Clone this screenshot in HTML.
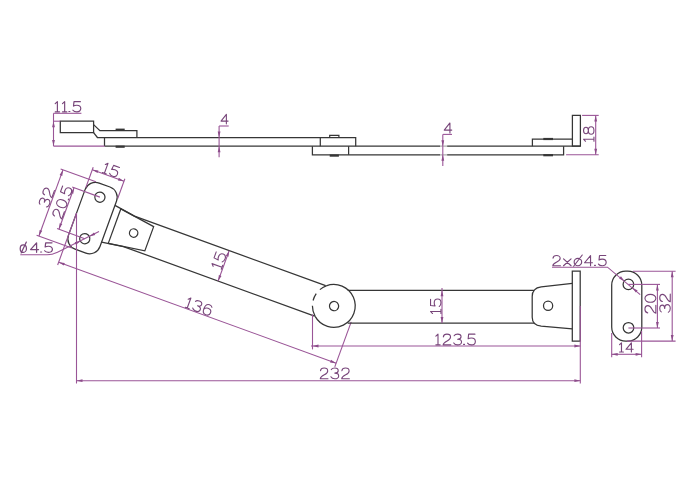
<!DOCTYPE html>
<html><head><meta charset="utf-8"><style>
html,body{margin:0;padding:0;background:#fff;}
svg{display:block;}
text{font-family:"Liberation Sans",sans-serif;}
</style></head><body>
<svg width="700" height="500" viewBox="0 0 700 500">
<rect width="700" height="500" fill="#fff"/>
<path d="M60.30,121.20 L93.60,121.20 L93.60,132.60 L60.30,132.60 Z" fill="none" stroke="#363636" stroke-width="1.25"/>
<path d="M93.60,124.60 L99.90,130.60 L136.90,130.60 L136.90,137.50" fill="none" stroke="#363636" stroke-width="1.25" />
<path d="M93.60,132.60 L97.40,137.50 L355.70,137.50 L355.70,146.20" fill="none" stroke="#363636" stroke-width="1.25" />
<path d="M104.50,137.50 L104.50,146.20" fill="none" stroke="#363636" stroke-width="1.25" />
<path d="M104.50,146.20 L580.40,146.20" fill="none" stroke="#363636" stroke-width="1.25" />
<path d="M320.30,137.50 L320.30,146.20" fill="none" stroke="#363636" stroke-width="1.25" />
<path d="M312.40,146.20 L312.40,154.80 L563.60,154.80 L563.60,146.20" fill="none" stroke="#363636" stroke-width="1.25" />
<path d="M348.60,146.20 L348.60,154.80" fill="none" stroke="#363636" stroke-width="1.25" />
<path d="M329.70,135.40 L338.90,135.40 L338.90,137.50 L329.70,137.50 Z" fill="none" stroke="#363636" stroke-width="1.2"/>
<path d="M329.70,155.60 L338.90,155.60" fill="none" stroke="#363636" stroke-width="2.2" />
<path d="M115.60,129.70 L124.70,129.70" fill="none" stroke="#363636" stroke-width="2.2" />
<path d="M115.60,146.70 L124.70,146.70" fill="none" stroke="#363636" stroke-width="2.2" />
<path d="M543.30,139.00 L553.00,139.00" fill="none" stroke="#363636" stroke-width="2.2" />
<path d="M543.30,155.20 L553.00,155.20" fill="none" stroke="#363636" stroke-width="2.2" />
<path d="M532.40,146.20 L532.40,139.10 L572.40,139.10" fill="none" stroke="#363636" stroke-width="1.25" />
<path d="M572.40,115.40 L580.40,115.40 L580.40,146.20 L572.40,146.20 Z" fill="none" stroke="#363636" stroke-width="1.25"/>
<path d="M53.50,113.30 L53.50,146.10" fill="none" stroke="#9a5597" stroke-width="1.1" />
<path d="M53.50,113.30 L81.40,113.30" fill="none" stroke="#9a5597" stroke-width="1.1" />
<path d="M53.50,146.10 L104.50,146.10" fill="none" stroke="#9a5597" stroke-width="1.1" />
<path d="M53.50,121.20 L60.30,121.20" fill="none" stroke="#9a5597" stroke-width="1.1" />
<path d="M53.50,121.20 L54.90,127.20 L52.10,127.20 Z" fill="#8c4c8a"/>
<path d="M53.50,146.10 L52.10,140.10 L54.90,140.10 Z" fill="#8c4c8a"/>
<g transform="translate(68.00,106.75) rotate(0) scale(0.9829,0.9273) translate(-13.00,5.5)" fill="none" stroke="#78467a" stroke-width="1.186" stroke-linecap="round" stroke-linejoin="round"><path transform="translate(0.00,0)" d="M0,-8.9 L2.2,-11 V0 M0,0 H4.4"/><path transform="translate(7.40,0)" d="M0,-8.9 L2.2,-11 V0 M0,0 H4.4"/><path transform="translate(13.80,0)" d="M0.1,-0.45 H1.1"/><path transform="translate(18.00,0)" d="M7.6,-11 H1.1 L0.6,-6.2 C1.4,-6.9 2.7,-7.1 4,-7.1 C6.5,-7.1 8,-5.6 8,-3.5 C8,-1.3 6.4,0 4,0 C2.2,0 0.8,-0.6 0,-1.8"/></g>
<path d="M219.10,126.00 L219.10,157.30" fill="none" stroke="#9a5597" stroke-width="1.1" />
<path d="M219.10,126.00 L228.70,126.00" fill="none" stroke="#9a5597" stroke-width="1.1" />
<path d="M219.10,137.50 L217.70,131.50 L220.50,131.50 Z" fill="#8c4c8a"/>
<path d="M219.10,146.20 L220.50,152.20 L217.70,152.20 Z" fill="#8c4c8a"/>
<g transform="translate(224.55,119.10) rotate(0) scale(0.8636,0.8636) translate(-4.10,5.5)" fill="none" stroke="#78467a" stroke-width="1.274" stroke-linecap="round" stroke-linejoin="round"><path transform="translate(0.00,0)" d="M6.2,0 V-11 L0,-3.2 H8.2"/></g>
<rect x="440" y="144" width="7.2" height="13" fill="#fff" fill-opacity="0.6"/>
<path d="M442.80,134.40 L442.80,166.00" fill="none" stroke="#9a5597" stroke-width="1.1" />
<path d="M442.80,134.40 L452.00,134.40" fill="none" stroke="#9a5597" stroke-width="1.1" />
<path d="M442.80,146.20 L441.40,140.20 L444.20,140.20 Z" fill="#8c4c8a"/>
<path d="M442.80,154.80 L444.20,160.80 L441.40,160.80 Z" fill="#8c4c8a"/>
<g transform="translate(448.00,128.00) rotate(0) scale(0.9182,0.9182) translate(-4.10,5.5)" fill="none" stroke="#78467a" stroke-width="1.198" stroke-linecap="round" stroke-linejoin="round"><path transform="translate(0.00,0)" d="M6.2,0 V-11 L0,-3.2 H8.2"/></g>
<path d="M595.70,115.40 L595.70,154.80" fill="none" stroke="#9a5597" stroke-width="1.1" />
<path d="M582.10,115.40 L598.70,115.40" fill="none" stroke="#9a5597" stroke-width="1.1" />
<path d="M566.10,154.80 L598.70,154.80" fill="none" stroke="#9a5597" stroke-width="1.1" />
<path d="M595.70,115.40 L597.10,121.40 L594.30,121.40 Z" fill="#8c4c8a"/>
<path d="M595.70,154.80 L594.30,148.80 L597.10,148.80 Z" fill="#8c4c8a"/>
<g transform="translate(588.75,134.00) rotate(-90) scale(0.9455,0.9455) translate(-7.70,5.5)" fill="none" stroke="#78467a" stroke-width="1.163" stroke-linecap="round" stroke-linejoin="round"><path transform="translate(0.00,0)" d="M0,-8.9 L2.2,-11 V0 M0,0 H4.4"/><path transform="translate(7.40,0)" d="M4,-5.9 C2,-5.9 0.6,-7 0.6,-8.45 C0.6,-9.9 2,-11 4,-11 C6,-11 7.4,-9.9 7.4,-8.45 C7.4,-7 6,-5.9 4,-5.9 C1.8,-5.9 0,-4.6 0,-2.95 C0,-1.3 1.8,0 4,0 C6.2,0 8,-1.3 8,-2.95 C8,-4.6 6.2,-5.9 4,-5.9 Z"/></g>
<g transform="translate(333.8,305.9) rotate(20)">
<rect x="-273.5" y="-35.2" width="33.5" height="70.4" rx="11" ry="11" fill="none" stroke="#363636" stroke-width="1.25"/>
<circle cx="-257" cy="-22.2" r="5.1" fill="none" stroke="#363636" stroke-width="1.25" />
<circle cx="-257" cy="22" r="5.1" fill="none" stroke="#363636" stroke-width="1.25" />
<path d="M-233.30,-18.40 L-233.30,18.40" fill="none" stroke="#363636" stroke-width="1.25" />
<path d="M-240.00,-19.60 L-218.00,-16.20 L-14.60,-16.20" fill="none" stroke="#363636" stroke-width="1.25" />
<path d="M-240.00,19.60 L-218.00,16.20 L-14.60,16.20" fill="none" stroke="#363636" stroke-width="1.25" />
<path d="M-233.30,-18.30 L-196.40,-12.90 L-196.40,12.90 L-233.30,18.30" fill="none" stroke="#363636" stroke-width="1.25" />
<circle cx="-213" cy="0" r="4.2" fill="none" stroke="#363636" stroke-width="1.25" />
<path d="M-13.98,-16.2 A21.4,21.4 0 1 1 -13.98,16.2" fill="none" stroke="#363636" stroke-width="1.25"/>
<path d="M-13.98,-16.2 A21.4,21.4 0 0 0 -13.98,16.2" fill="none" stroke="#363636" stroke-width="1.25" stroke-dasharray="7.4 5.4 7.5 5.4 30"/>
<circle cx="0.3" cy="0.1" r="4.6" fill="none" stroke="#363636" stroke-width="1.25" />
<path d="M-273.50,-26.00 L-273.50,-48.00" fill="none" stroke="#9a5597" stroke-width="1.1" />
<path d="M-239.80,-27.00 L-239.80,-48.00" fill="none" stroke="#9a5597" stroke-width="1.1" />
<path d="M-273.50,-45.40 L-239.80,-45.40" fill="none" stroke="#9a5597" stroke-width="1.1" />
<path d="M-273.50,-45.40 L-267.50,-46.80 L-267.50,-44.00 Z" fill="#8c4c8a"/>
<path d="M-239.80,-45.40 L-245.80,-44.00 L-245.80,-46.80 Z" fill="#8c4c8a"/>
<g transform="translate(-255.70,-51.50) rotate(0) scale(0.9545,0.9545) translate(-7.70,5.5)" fill="none" stroke="#78467a" stroke-width="1.152" stroke-linecap="round" stroke-linejoin="round"><path transform="translate(0.00,0)" d="M0,-8.9 L2.2,-11 V0 M0,0 H4.4"/><path transform="translate(7.40,0)" d="M7.6,-11 H1.1 L0.6,-6.2 C1.4,-6.9 2.7,-7.1 4,-7.1 C6.5,-7.1 8,-5.6 8,-3.5 C8,-1.3 6.4,0 4,0 C2.2,0 0.8,-0.6 0,-1.8"/></g>
<path d="M-266.00,-35.20 L-303.50,-35.20" fill="none" stroke="#9a5597" stroke-width="1.1" />
<path d="M-266.00,35.20 L-303.50,35.20" fill="none" stroke="#9a5597" stroke-width="1.1" />
<path d="M-301.00,-35.20 L-301.00,35.20" fill="none" stroke="#9a5597" stroke-width="1.1" />
<path d="M-301.00,-35.20 L-299.60,-29.20 L-302.40,-29.20 Z" fill="#8c4c8a"/>
<path d="M-301.00,35.20 L-302.40,29.20 L-299.60,29.20 Z" fill="#8c4c8a"/>
<g transform="translate(-307.20,-3.70) rotate(-90) scale(0.9545,0.9545) translate(-9.50,5.5)" fill="none" stroke="#78467a" stroke-width="1.152" stroke-linecap="round" stroke-linejoin="round"><path transform="translate(0.00,0)" d="M0.4,-9.4 C1,-10.5 2.4,-11 4,-11 C6,-11 7.5,-9.9 7.5,-8.2 C7.5,-6.6 6,-5.8 4,-5.8 C6.3,-5.8 8,-4.6 8,-2.9 C8,-1.1 6.3,0 4,0 C2.2,0 0.7,-0.7 0,-2"/><path transform="translate(11.00,0)" d="M0.3,-8.2 C0.5,-9.9 2,-11 4,-11 C6.2,-11 7.7,-9.8 7.7,-8 C7.7,-6.2 6.3,-5.1 4.2,-4 C2,-2.9 0.2,-1.8 0.1,0 H8"/></g>
<path d="M-257.00,-22.20 L-286.50,-22.20" fill="none" stroke="#9a5597" stroke-width="1.1" />
<path d="M-257.00,22.00 L-286.50,22.00" fill="none" stroke="#9a5597" stroke-width="1.1" />
<path d="M-284.50,-22.20 L-284.50,22.00" fill="none" stroke="#9a5597" stroke-width="1.1" />
<path d="M-284.50,-22.20 L-283.10,-16.20 L-285.90,-16.20 Z" fill="#8c4c8a"/>
<path d="M-284.50,22.00 L-285.90,16.00 L-283.10,16.00 Z" fill="#8c4c8a"/>
<g transform="translate(-290.60,-4.50) rotate(-90) scale(0.9545,0.9545) translate(-16.60,5.5)" fill="none" stroke="#78467a" stroke-width="1.152" stroke-linecap="round" stroke-linejoin="round"><path transform="translate(0.00,0)" d="M0.3,-8.2 C0.5,-9.9 2,-11 4,-11 C6.2,-11 7.7,-9.8 7.7,-8 C7.7,-6.2 6.3,-5.1 4.2,-4 C2,-2.9 0.2,-1.8 0.1,0 H8"/><path transform="translate(11.00,0)" d="M4,-11 C6.3,-11 8,-8.6 8,-5.5 C8,-2.4 6.3,0 4,0 C1.7,0 0,-2.4 0,-5.5 C0,-8.6 1.7,-11 4,-11 Z"/><path transform="translate(21.00,0)" d="M0.1,-0.45 H1.1"/><path transform="translate(25.20,0)" d="M7.6,-11 H1.1 L0.6,-6.2 C1.4,-6.9 2.7,-7.1 4,-7.1 C6.5,-7.1 8,-5.6 8,-3.5 C8,-1.3 6.4,0 4,0 C2.2,0 0.8,-0.6 0,-1.8"/></g>
<path d="M-273.50,1.00 L-273.50,56.00" fill="none" stroke="#9a5597" stroke-width="1.1" />
<path d="M21.80,9.00 L21.80,57.00" fill="none" stroke="#9a5597" stroke-width="1.1" />
<path d="M-273.50,53.00 L21.80,53.00" fill="none" stroke="#9a5597" stroke-width="1.1" />
<path d="M-273.50,53.00 L-267.50,51.60 L-267.50,54.40 Z" fill="#8c4c8a"/>
<path d="M21.80,53.00 L15.80,54.40 L15.80,51.60 Z" fill="#8c4c8a"/>
<g transform="translate(-126.30,46.80) rotate(0) scale(0.9727,0.9727) translate(-13.20,5.5)" fill="none" stroke="#78467a" stroke-width="1.131" stroke-linecap="round" stroke-linejoin="round"><path transform="translate(0.00,0)" d="M0,-8.9 L2.2,-11 V0 M0,0 H4.4"/><path transform="translate(7.40,0)" d="M0.4,-9.4 C1,-10.5 2.4,-11 4,-11 C6,-11 7.5,-9.9 7.5,-8.2 C7.5,-6.6 6,-5.8 4,-5.8 C6.3,-5.8 8,-4.6 8,-2.9 C8,-1.1 6.3,0 4,0 C2.2,0 0.7,-0.7 0,-2"/><path transform="translate(18.40,0)" d="M7.4,-9.4 C6.8,-10.4 5.6,-11 4.2,-11 C1.6,-11 0.1,-8.5 0.1,-5 C0.1,-1.8 1.7,0 4,0 C6.3,0 8,-1.6 8,-3.6 C8,-5.6 6.3,-7.1 4.1,-7.1 C2.3,-7.1 0.8,-6.1 0.1,-4.6"/></g>
<path d="M-117.20,-16.20 L-117.20,16.20" fill="none" stroke="#9a5597" stroke-width="1.1" />
<path d="M-117.20,-16.20 L-115.80,-10.20 L-118.60,-10.20 Z" fill="#8c4c8a"/>
<path d="M-117.20,16.20 L-118.60,10.20 L-115.80,10.20 Z" fill="#8c4c8a"/>
<g transform="translate(-123.60,-3.40) rotate(-90) scale(0.9727,0.9727) translate(-7.70,5.5)" fill="none" stroke="#78467a" stroke-width="1.131" stroke-linecap="round" stroke-linejoin="round"><path transform="translate(0.00,0)" d="M0,-8.9 L2.2,-11 V0 M0,0 H4.4"/><path transform="translate(7.40,0)" d="M7.6,-11 H1.1 L0.6,-6.2 C1.4,-6.9 2.7,-7.1 4,-7.1 C6.5,-7.1 8,-5.6 8,-3.5 C8,-1.3 6.4,0 4,0 C2.2,0 0.8,-0.6 0,-1.8"/></g>
</g>
<path d="M347.67,290.30 L534.20,290.30" fill="none" stroke="#363636" stroke-width="1.25" />
<path d="M347.67,323.00 L534.20,323.00" fill="none" stroke="#363636" stroke-width="1.25" />
<path d="M442.00,288.00 L442.00,323.00" fill="none" stroke="#9a5597" stroke-width="1.1" />
<path d="M442.00,290.30 L443.40,296.30 L440.60,296.30 Z" fill="#8c4c8a"/>
<path d="M442.00,323.00 L440.60,317.00 L443.40,317.00 Z" fill="#8c4c8a"/>
<g transform="translate(435.75,306.25) rotate(-90) scale(0.9455,0.9455) translate(-7.70,5.5)" fill="none" stroke="#78467a" stroke-width="1.163" stroke-linecap="round" stroke-linejoin="round"><path transform="translate(0.00,0)" d="M0,-8.9 L2.2,-11 V0 M0,0 H4.4"/><path transform="translate(7.40,0)" d="M7.6,-11 H1.1 L0.6,-6.2 C1.4,-6.9 2.7,-7.1 4,-7.1 C6.5,-7.1 8,-5.6 8,-3.5 C8,-1.3 6.4,0 4,0 C2.2,0 0.8,-0.6 0,-1.8"/></g>
<path d="M572.3,283.4 L541.2,286.8 Q532.2,288 532.2,296.5 L532.2,317.3 Q532.2,325.2 541.2,326.2 L572.3,328.8" fill="none" stroke="#363636" stroke-width="1.25"/>
<circle cx="548.1" cy="305.7" r="4.6" fill="none" stroke="#363636" stroke-width="1.25" />
<path d="M572.30,271.10 L580.20,271.10 L580.20,341.20 L572.30,341.20 Z" fill="none" stroke="#363636" stroke-width="1.25"/>
<rect x="611.7" y="271.2" width="30.1" height="69.9" rx="14" ry="14" fill="none" stroke="#363636" stroke-width="1.25"/>
<circle cx="628.4" cy="284.4" r="5.3" fill="none" stroke="#363636" stroke-width="1.25" />
<circle cx="628.5" cy="327.8" r="5.3" fill="none" stroke="#363636" stroke-width="1.25" />
<path d="M76.50,213.00 L76.50,383.50" fill="none" stroke="#9a5597" stroke-width="1.1" />
<path d="M76.50,380.70 L580.40,380.70" fill="none" stroke="#9a5597" stroke-width="1.1" />
<path d="M76.50,380.70 L82.50,379.30 L82.50,382.10 Z" fill="#8c4c8a"/>
<path d="M580.40,380.70 L574.40,382.10 L574.40,379.30 Z" fill="#8c4c8a"/>
<g transform="translate(334.80,373.40) rotate(0) scale(0.9727,0.9727) translate(-15.00,5.5)" fill="none" stroke="#78467a" stroke-width="1.131" stroke-linecap="round" stroke-linejoin="round"><path transform="translate(0.00,0)" d="M0.3,-8.2 C0.5,-9.9 2,-11 4,-11 C6.2,-11 7.7,-9.8 7.7,-8 C7.7,-6.2 6.3,-5.1 4.2,-4 C2,-2.9 0.2,-1.8 0.1,0 H8"/><path transform="translate(11.00,0)" d="M0.4,-9.4 C1,-10.5 2.4,-11 4,-11 C6,-11 7.5,-9.9 7.5,-8.2 C7.5,-6.6 6,-5.8 4,-5.8 C6.3,-5.8 8,-4.6 8,-2.9 C8,-1.1 6.3,0 4,0 C2.2,0 0.7,-0.7 0,-2"/><path transform="translate(22.00,0)" d="M0.3,-8.2 C0.5,-9.9 2,-11 4,-11 C6.2,-11 7.7,-9.8 7.7,-8 C7.7,-6.2 6.3,-5.1 4.2,-4 C2,-2.9 0.2,-1.8 0.1,0 H8"/></g>
<path d="M312.50,314.50 L312.50,349.40" fill="none" stroke="#9a5597" stroke-width="1.1" />
<path d="M580.30,306.00 L580.30,383.50" fill="none" stroke="#9a5597" stroke-width="1.1" />
<path d="M311.00,346.00 L580.40,346.00" fill="none" stroke="#9a5597" stroke-width="1.1" />
<path d="M312.50,346.00 L318.50,344.60 L318.50,347.40 Z" fill="#8c4c8a"/>
<path d="M580.40,346.00 L574.40,347.40 L574.40,344.60 Z" fill="#8c4c8a"/>
<g transform="translate(455.60,339.50) rotate(0) scale(0.9727,0.9727) translate(-20.30,5.5)" fill="none" stroke="#78467a" stroke-width="1.131" stroke-linecap="round" stroke-linejoin="round"><path transform="translate(0.00,0)" d="M0,-8.9 L2.2,-11 V0 M0,0 H4.4"/><path transform="translate(7.40,0)" d="M0.3,-8.2 C0.5,-9.9 2,-11 4,-11 C6.2,-11 7.7,-9.8 7.7,-8 C7.7,-6.2 6.3,-5.1 4.2,-4 C2,-2.9 0.2,-1.8 0.1,0 H8"/><path transform="translate(18.40,0)" d="M0.4,-9.4 C1,-10.5 2.4,-11 4,-11 C6,-11 7.5,-9.9 7.5,-8.2 C7.5,-6.6 6,-5.8 4,-5.8 C6.3,-5.8 8,-4.6 8,-2.9 C8,-1.1 6.3,0 4,0 C2.2,0 0.7,-0.7 0,-2"/><path transform="translate(28.40,0)" d="M0.1,-0.45 H1.1"/><path transform="translate(32.60,0)" d="M7.6,-11 H1.1 L0.6,-6.2 C1.4,-6.9 2.7,-7.1 4,-7.1 C6.5,-7.1 8,-5.6 8,-3.5 C8,-1.3 6.4,0 4,0 C2.2,0 0.8,-0.6 0,-1.8"/></g>
<path d="M20.3,254.8 L47,254.8 Q52,254.8 57.5,252.2 L99,231.5" fill="none" stroke="#9a5597" stroke-width="1.1"/>
<path d="M80.70,240.90 L75.97,244.84 L74.71,242.34 Z" fill="#8c4c8a"/>
<path d="M89.30,236.50 L93.99,232.51 L95.27,235.00 Z" fill="#8c4c8a"/>
<g transform="translate(36.30,247.60) rotate(0) scale(0.9759,0.8636) translate(-16.50,5.5)" fill="none" stroke="#78467a" stroke-width="1.274" stroke-linecap="round" stroke-linejoin="round"><path transform="translate(0.00,0)" d="M3.2,-8.6 C5,-8.6 6.4,-6.7 6.4,-4.3 C6.4,-1.9 5,0 3.2,0 C1.4,0 0,-1.9 0,-4.3 C0,-6.7 1.4,-8.6 3.2,-8.6 Z M1.0,0.7 L6.3,-11.9"/><path transform="translate(10.60,0)" d="M6.2,0 V-11 L0,-3.2 H8.2"/><path transform="translate(20.80,0)" d="M0.1,-0.45 H1.1"/><path transform="translate(25.00,0)" d="M7.6,-11 H1.1 L0.6,-6.2 C1.4,-6.9 2.7,-7.1 4,-7.1 C6.5,-7.1 8,-5.6 8,-3.5 C8,-1.3 6.4,0 4,0 C2.2,0 0.8,-0.6 0,-1.8"/></g>
<path d="M552.00,267.20 L607.50,267.20 L640.20,294.60" fill="none" stroke="#9a5597" stroke-width="1.1" />
<path d="M624.60,281.20 L619.12,278.38 L620.93,276.25 Z" fill="#8c4c8a"/>
<path d="M632.20,287.60 L637.64,290.49 L635.80,292.60 Z" fill="#8c4c8a"/>
<g transform="translate(579.45,260.65) rotate(0) scale(0.9644,0.9273) translate(-27.70,5.5)" fill="none" stroke="#78467a" stroke-width="1.186" stroke-linecap="round" stroke-linejoin="round"><path transform="translate(0.00,0)" d="M0.3,-8.2 C0.5,-9.9 2,-11 4,-11 C6.2,-11 7.7,-9.8 7.7,-8 C7.7,-6.2 6.3,-5.1 4.2,-4 C2,-2.9 0.2,-1.8 0.1,0 H8"/><path transform="translate(11.00,0)" d="M0.2,-7.4 L8,0 M8,-7.4 L0.2,0"/><path transform="translate(22.20,0)" d="M3.9,-7.9 C6,-7.9 7.8,-6.2 7.8,-3.95 C7.8,-1.7 6,0 3.9,0 C1.8,0 0,-1.7 0,-3.95 C0,-6.2 1.8,-7.9 3.9,-7.9 Z M-0.5,0.5 L8.4,-11.6"/><path transform="translate(33.00,0)" d="M6.2,0 V-11 L0,-3.2 H8.2"/><path transform="translate(43.20,0)" d="M0.1,-0.45 H1.1"/><path transform="translate(47.40,0)" d="M7.6,-11 H1.1 L0.6,-6.2 C1.4,-6.9 2.7,-7.1 4,-7.1 C6.5,-7.1 8,-5.6 8,-3.5 C8,-1.3 6.4,0 4,0 C2.2,0 0.8,-0.6 0,-1.8"/></g>
<path d="M628.40,284.40 L660.00,284.40" fill="none" stroke="#9a5597" stroke-width="1.1" />
<path d="M628.40,328.00 L660.00,328.00" fill="none" stroke="#9a5597" stroke-width="1.1" />
<path d="M657.40,284.40 L657.40,328.00" fill="none" stroke="#9a5597" stroke-width="1.1" />
<path d="M657.40,284.40 L658.80,290.40 L656.00,290.40 Z" fill="#8c4c8a"/>
<path d="M657.40,328.00 L656.00,322.00 L658.80,322.00 Z" fill="#8c4c8a"/>
<g transform="translate(650.40,303.80) rotate(-90) scale(0.9909,0.9909) translate(-9.50,5.5)" fill="none" stroke="#78467a" stroke-width="1.110" stroke-linecap="round" stroke-linejoin="round"><path transform="translate(0.00,0)" d="M0.3,-8.2 C0.5,-9.9 2,-11 4,-11 C6.2,-11 7.7,-9.8 7.7,-8 C7.7,-6.2 6.3,-5.1 4.2,-4 C2,-2.9 0.2,-1.8 0.1,0 H8"/><path transform="translate(11.00,0)" d="M4,-11 C6.3,-11 8,-8.6 8,-5.5 C8,-2.4 6.3,0 4,0 C1.7,0 0,-2.4 0,-5.5 C0,-8.6 1.7,-11 4,-11 Z"/></g>
<path d="M633.00,271.20 L675.60,271.20" fill="none" stroke="#9a5597" stroke-width="1.1" />
<path d="M627.00,341.10 L675.60,341.10" fill="none" stroke="#9a5597" stroke-width="1.1" />
<path d="M672.20,271.20 L672.20,341.10" fill="none" stroke="#9a5597" stroke-width="1.1" />
<path d="M672.20,271.20 L673.60,277.20 L670.80,277.20 Z" fill="#8c4c8a"/>
<path d="M672.20,341.10 L670.80,335.10 L673.60,335.10 Z" fill="#8c4c8a"/>
<g transform="translate(665.00,303.20) rotate(-90) scale(0.9545,0.9545) translate(-9.50,5.5)" fill="none" stroke="#78467a" stroke-width="1.152" stroke-linecap="round" stroke-linejoin="round"><path transform="translate(0.00,0)" d="M0.4,-9.4 C1,-10.5 2.4,-11 4,-11 C6,-11 7.5,-9.9 7.5,-8.2 C7.5,-6.6 6,-5.8 4,-5.8 C6.3,-5.8 8,-4.6 8,-2.9 C8,-1.1 6.3,0 4,0 C2.2,0 0.7,-0.7 0,-2"/><path transform="translate(11.00,0)" d="M0.3,-8.2 C0.5,-9.9 2,-11 4,-11 C6.2,-11 7.7,-9.8 7.7,-8 C7.7,-6.2 6.3,-5.1 4.2,-4 C2,-2.9 0.2,-1.8 0.1,0 H8"/></g>
<path d="M611.70,333.00 L611.70,357.30" fill="none" stroke="#9a5597" stroke-width="1.1" />
<path d="M641.60,331.00 L641.60,357.30" fill="none" stroke="#9a5597" stroke-width="1.1" />
<path d="M611.70,354.30 L641.60,354.30" fill="none" stroke="#9a5597" stroke-width="1.1" />
<path d="M611.70,354.30 L617.70,352.90 L617.70,355.70 Z" fill="#8c4c8a"/>
<path d="M641.60,354.30 L635.60,355.70 L635.60,352.90 Z" fill="#8c4c8a"/>
<g transform="translate(626.35,347.40) rotate(0) scale(0.8686,0.8273) translate(-7.80,5.5)" fill="none" stroke="#78467a" stroke-width="1.330" stroke-linecap="round" stroke-linejoin="round"><path transform="translate(0.00,0)" d="M0,-8.9 L2.2,-11 V0 M0,0 H4.4"/><path transform="translate(7.40,0)" d="M6.2,0 V-11 L0,-3.2 H8.2"/></g>
</svg>
</body></html>
